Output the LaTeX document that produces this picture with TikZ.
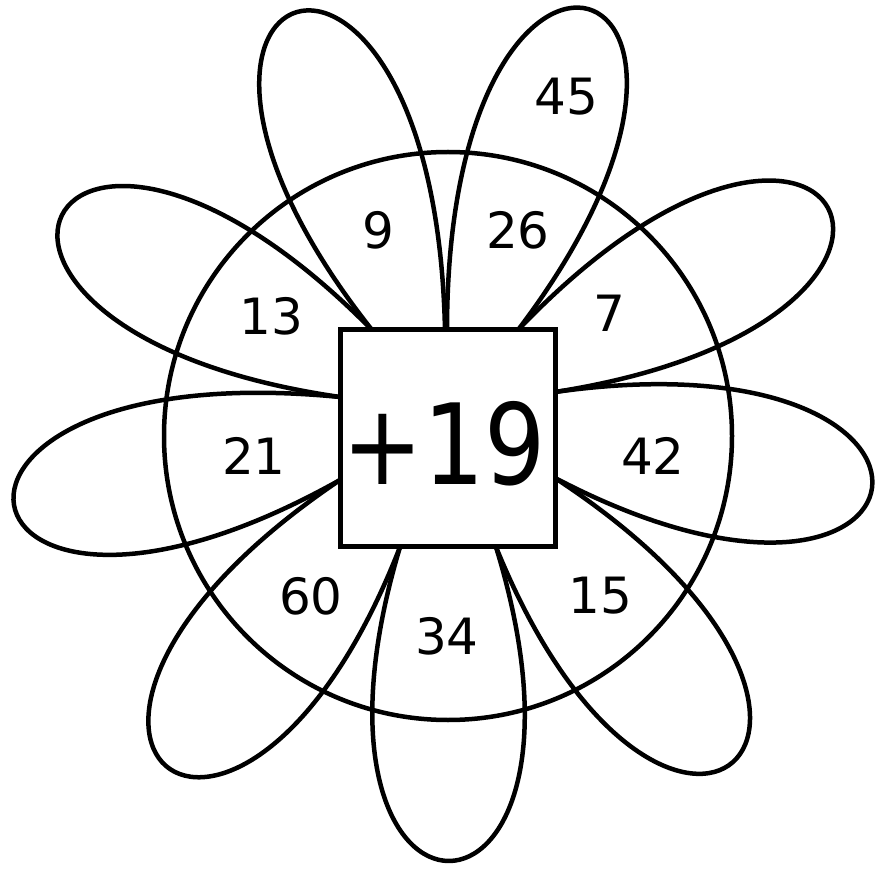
\documentclass[tikz,border=0pt]{standalone}
\usepackage{fontspec}
\setmainfont{DejaVu Sans}
\newfontfamily\bigfont[FakeStretch=0.86]{DejaVu Sans}
\usetikzlibrary{calc}
\tikzset{
  outline/.style={line width=4.5pt, draw=black},
  num/.style={inner sep=0pt, font=\fontsize{50}{60}\selectfont},
  bignum/.style={inner sep=0pt, font=\bigfont\fontsize{112}{120}\selectfont},
}
\newcommand\petal[4]{%
  \coordinate (pM) at ($(#1)!0.5!(#2)$);
  \coordinate (pC) at ($(pM)!1.3333!(#3)$);
  \draw[outline] (#1) .. controls ($(pC)!#4!90:(pM)$) and ($(pC)!#4!-90:(pM)$) .. (#2);
}
\begin{document}
\begin{tikzpicture}[x=1pt,y=-1pt]
\useasboundingbox (0,0) rectangle (879,869);
% outer ring
\node[circle, outline, minimum size=568pt, inner sep=0pt] (ring) at (448,436) {};
% base points on the square
\coordinate (s1) at (445,330);
\coordinate (s2) at (447,330);
\coordinate (s3) at (372,330);
\coordinate (s4) at (518,330);
\coordinate (s5) at (340,397);
\coordinate (s6) at (340,480);
\coordinate (s7) at (555,392);
\coordinate (s8) at (555,478);
\coordinate (s9) at (400,547);
\coordinate (s10) at (496,547);
% petal tips
\coordinate (tTL) at (297,12);
\coordinate (tTR) at (588,9);
\coordinate (tUL) at (62,215);
\coordinate (tUR) at (828,208);
\coordinate (tL) at (14,505);
\coordinate (tR) at (872,488);
\coordinate (tLL) at (166,766);
\coordinate (tB) at (449,861);
\coordinate (tLR) at (733,762);
% petals
\petal{s1}{s3}{tTL}{185pt}
\petal{s4}{s2}{tTR}{185pt}
\petal{s3}{s5}{tUL}{185pt}
\petal{s7}{s4}{tUR}{185pt}
\petal{s5}{s6}{tL}{180pt}
\petal{s8}{s7}{tR}{180pt}
\petal{s6}{s9}{tLL}{180pt}
\petal{s9}{s10}{tB}{175pt}
\petal{s10}{s8}{tLR}{180pt}
% centre square
\node[outline, fill=white, minimum width=215pt, minimum height=217pt, inner sep=0pt] (sq) at (447.8,438.2) {};
\node[bignum] (sum) at (444,444) {+19};
% numbers
\node[num] (n45) at (566.5,96.7) {45};
\node[num] (n9) at (378,230) {9};
\node[num] (n26) at (518,230) {26};
\node[num] (n7) at (609.7,313) {7};
\node[num] (n13) at (271.5,316.7) {13};
\node[num] (n21) at (254,456) {21};
\node[num] (n42) at (653,456) {42};
\node[num] (n60) at (311,596.5) {60};
\node[num] (n34) at (447,636) {34};
\node[num] (n15) at (600.5,596) {15};
\end{tikzpicture}
\end{document}
